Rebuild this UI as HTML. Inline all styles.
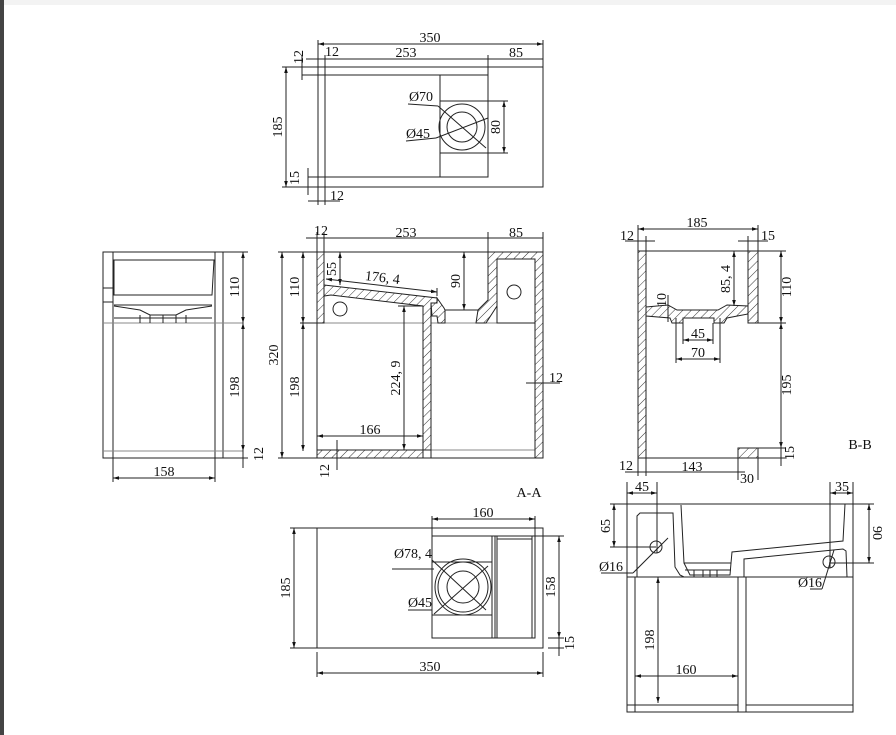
<!DOCTYPE html>
<html><head><meta charset="utf-8"><style>
html,body{margin:0;padding:0;background:#fff;}
svg{display:block;}
text{font-family:"Liberation Serif",serif;font-size:14px;fill:#111;}
</style></head><body>
<svg width="896" height="735" viewBox="0 0 896 735" xmlns="http://www.w3.org/2000/svg">
<defs>
<pattern id="h" patternUnits="userSpaceOnUse" width="6" height="6" patternTransform="rotate(45)">
<rect width="6" height="6" fill="#fff"/><line x1="0" y1="0" x2="0" y2="6" stroke="#333" stroke-width="1"/>
</pattern>
<marker id="a" viewBox="0 0 10 10" refX="10" refY="5" markerWidth="6" markerHeight="6" orient="auto-start-reverse"><path d="M0,2 L10,5 L0,8 z" fill="#111"/></marker>
</defs>
<rect x="0" y="0" width="896" height="735" fill="#fff"/>
<rect x="0" y="0" width="896" height="5" fill="#f3f3f3"/>
<rect x="0" y="0" width="4" height="735" fill="#444"/>

<g stroke="#222" stroke-width="1" fill="none">
<!-- TOP VIEW -->
<rect x="318" y="67" width="225" height="120"/>
<rect x="325" y="75" width="163" height="102"/>
<line x1="440" y1="75" x2="440" y2="177"/>
<rect x="440" y="101" width="48" height="52"/>
<circle cx="462" cy="127" r="23"/><circle cx="462" cy="127" r="15"/>
<line x1="438" y1="106" x2="486" y2="148"/><line x1="436" y1="138" x2="488" y2="118"/>
<line x1="318" y1="44" x2="543" y2="44" marker-start="url(#a)" marker-end="url(#a)"/>
<line x1="318" y1="40" x2="318" y2="67"/><line x1="543" y1="40" x2="543" y2="67"/>
<line x1="306" y1="59" x2="543" y2="59"/>
<line x1="325" y1="55" x2="325" y2="75"/><line x1="488" y1="55" x2="488" y2="75"/>
<line x1="282" y1="67" x2="318" y2="67"/><line x1="282" y1="187" x2="318" y2="187"/>
<line x1="286" y1="67" x2="286" y2="187" marker-start="url(#a)" marker-end="url(#a)"/>
<line x1="302" y1="55" x2="302" y2="80"/><line x1="302" y1="75" x2="325" y2="75"/>
<line x1="308" y1="168" x2="308" y2="195"/><line x1="308" y1="177" x2="325" y2="177"/>
<line x1="308" y1="201" x2="340" y2="201"/><line x1="318" y1="187" x2="318" y2="205"/><line x1="325" y1="177" x2="325" y2="205"/>
<line x1="488" y1="101" x2="508" y2="101"/><line x1="488" y1="153" x2="508" y2="153"/>
<line x1="504" y1="101" x2="504" y2="153" marker-start="url(#a)" marker-end="url(#a)"/>
<line x1="408" y1="104" x2="438" y2="106"/><line x1="406" y1="141" x2="436" y2="138"/>

<!-- LEFT SIDE VIEW -->
<rect x="103" y="252" width="120" height="206"/>
<line x1="113" y1="252" x2="113" y2="458"/><line x1="215" y1="252" x2="215" y2="458"/>
<line x1="103" y1="323" x2="243" y2="323" stroke="#888"/>
<line x1="103" y1="451" x2="243" y2="451" stroke="#888"/>
<path d="M114,260 L214,260 L212,295 L114,295 Z"/>
<line x1="114" y1="305" x2="212" y2="305"/>
<path d="M114,306 L140,310 L150,315 L176,315 L186,310 L212,306"/>
<line x1="114" y1="318" x2="212" y2="318"/>
<line x1="140" y1="315" x2="140" y2="323"/><line x1="150" y1="315" x2="150" y2="323"/><line x1="163" y1="315" x2="163" y2="323"/><line x1="176" y1="315" x2="176" y2="323"/><line x1="186" y1="315" x2="186" y2="323"/>
<line x1="103" y1="288" x2="113" y2="288"/><line x1="103" y1="302" x2="113" y2="302"/>
<line x1="223" y1="252" x2="248" y2="252"/><line x1="223" y1="458" x2="248" y2="458"/>
<line x1="243" y1="252" x2="243" y2="323" marker-start="url(#a)" marker-end="url(#a)"/>
<line x1="243" y1="323" x2="243" y2="451" marker-start="url(#a)" marker-end="url(#a)"/>
<line x1="243" y1="451" x2="243" y2="468"/>
<line x1="113" y1="458" x2="113" y2="482"/><line x1="215" y1="458" x2="215" y2="482"/>
<line x1="113" y1="478" x2="215" y2="478" marker-start="url(#a)" marker-end="url(#a)"/>

<!-- A-A SECTION -->
<rect x="317" y="252" width="226" height="206"/>
<line x1="317" y1="323" x2="543" y2="323" stroke="#888"/>
<line x1="317" y1="450" x2="543" y2="450" stroke="#888"/>
<rect x="317" y="252" width="7" height="71" fill="url(#h)"/>
<path d="M324,285 L437,298 L437,303 L431,303 L431,450 L423,450 L423,306 L331,295 L324,296 Z" fill="url(#h)"/>
<path d="M437,298 L444,308 L445,310 L445,323 L438,323 L437,316 L432,316 L431,303 L437,303 Z" fill="url(#h)"/>
<rect x="317" y="450" width="106" height="8" fill="url(#h)"/>
<line x1="431" y1="450" x2="431" y2="458"/>
<line x1="445" y1="310" x2="478" y2="310"/>
<path d="M478,310 L488,300 L488,252 L543,252 L543,458 L535,458 L535,259 L497,259 L497,306 L486,323 L476,323 L478,310 Z" fill="url(#h)"/>
<rect x="497" y="259" width="38" height="64" fill="#fff"/>
<circle cx="340" cy="309" r="7"/><circle cx="514" cy="292" r="7"/>
<line x1="306" y1="238" x2="543" y2="238"/>
<line x1="317" y1="232" x2="317" y2="252"/><line x1="324" y1="232" x2="324" y2="252"/><line x1="488" y1="232" x2="488" y2="252"/><line x1="543" y1="232" x2="543" y2="252"/>
<line x1="278" y1="252" x2="317" y2="252"/><line x1="278" y1="458" x2="317" y2="458"/>
<line x1="282" y1="252" x2="282" y2="458" marker-start="url(#a)" marker-end="url(#a)"/>
<line x1="300" y1="323" x2="317" y2="323"/>
<line x1="303" y1="252" x2="303" y2="323" marker-start="url(#a)" marker-end="url(#a)"/>
<line x1="303" y1="323" x2="303" y2="451" marker-start="url(#a)" marker-end="url(#a)"/>
<line x1="340" y1="252" x2="340" y2="285" marker-start="url(#a)" marker-end="url(#a)"/>
<line x1="326" y1="279" x2="437" y2="292" marker-start="url(#a)" marker-end="url(#a)"/>
<line x1="437" y1="288" x2="437" y2="296"/>
<line x1="464" y1="252" x2="464" y2="310" marker-start="url(#a)" marker-end="url(#a)"/>
<line x1="404" y1="306" x2="404" y2="450" marker-start="url(#a)" marker-end="url(#a)"/>
<line x1="398" y1="306" x2="423" y2="306"/>
<line x1="317" y1="436" x2="423" y2="436" marker-start="url(#a)" marker-end="url(#a)"/>
<line x1="526" y1="383" x2="560" y2="383"/>
<line x1="337" y1="440" x2="337" y2="470"/>

<!-- B-B SECTION -->
<rect x="638" y="251" width="8" height="207" fill="url(#h)"/>
<rect x="748" y="251" width="10" height="72" fill="url(#h)"/>
<rect x="738" y="448" width="20" height="10" fill="url(#h)"/>
<line x1="646" y1="458" x2="738" y2="458"/>
<line x1="646" y1="251" x2="748" y2="251"/>
<path d="M646,307 L668,305 L677,310 L718,310 L727,305 L748,306 L748,314 L727,318 L724,323 L714,323 L714,318 L683,318 L683,323 L672,323 L670,318 L646,316 Z" fill="url(#h)"/>
<line x1="683" y1="318" x2="714" y2="318"/>
<line x1="638" y1="229" x2="758" y2="229" marker-start="url(#a)" marker-end="url(#a)"/>
<line x1="638" y1="225" x2="638" y2="251"/><line x1="758" y1="225" x2="758" y2="251"/>
<line x1="625" y1="241" x2="655" y2="241"/><line x1="646" y1="236" x2="646" y2="251"/>
<line x1="738" y1="241" x2="768" y2="241"/><line x1="748" y1="236" x2="748" y2="251"/>
<line x1="734" y1="251" x2="734" y2="306" marker-start="url(#a)" marker-end="url(#a)"/>
<line x1="758" y1="251" x2="786" y2="251"/><line x1="758" y1="323" x2="786" y2="323"/>
<line x1="758" y1="448" x2="786" y2="448"/><line x1="758" y1="458" x2="786" y2="458"/>
<line x1="781" y1="251" x2="781" y2="323" marker-start="url(#a)" marker-end="url(#a)"/>
<line x1="781" y1="323" x2="781" y2="448" marker-start="url(#a)" marker-end="url(#a)"/>
<line x1="781" y1="440" x2="781" y2="466"/>
<line x1="668" y1="295" x2="668" y2="322"/>
<line x1="676" y1="318" x2="676" y2="363"/><line x1="683" y1="323" x2="683" y2="344"/><line x1="713" y1="323" x2="713" y2="344"/><line x1="720" y1="318" x2="720" y2="363"/>
<line x1="683" y1="340" x2="713" y2="340" marker-start="url(#a)" marker-end="url(#a)"/>
<line x1="676" y1="359" x2="720" y2="359" marker-start="url(#a)" marker-end="url(#a)"/>
<line x1="625" y1="472" x2="745" y2="472"/>
<line x1="638" y1="458" x2="638" y2="476"/><line x1="646" y1="458" x2="646" y2="476"/><line x1="738" y1="458" x2="738" y2="480"/><line x1="758" y1="458" x2="758" y2="480"/>

<!-- BOTTOM VIEW -->
<rect x="317" y="528" width="226" height="120"/>
<rect x="432" y="536" width="103" height="102"/>
<line x1="492" y1="536" x2="492" y2="638"/><line x1="495" y1="536" x2="495" y2="638"/><line x1="497" y1="536" x2="497" y2="638"/>
<line x1="532" y1="536" x2="532" y2="638"/><line x1="497" y1="539" x2="532" y2="539"/>
<line x1="432" y1="562" x2="492" y2="562"/><line x1="432" y1="615" x2="492" y2="615"/>
<circle cx="463" cy="587" r="28"/><circle cx="463" cy="587" r="25"/><circle cx="463" cy="587" r="16"/>
<line x1="432" y1="560" x2="486" y2="610"/><line x1="434" y1="614" x2="488" y2="566"/>
<line x1="432" y1="516" x2="432" y2="536"/><line x1="535" y1="516" x2="535" y2="536"/>
<line x1="432" y1="519" x2="535" y2="519" marker-start="url(#a)" marker-end="url(#a)"/>
<line x1="290" y1="528" x2="317" y2="528"/><line x1="290" y1="648" x2="317" y2="648"/>
<line x1="294" y1="528" x2="294" y2="648" marker-start="url(#a)" marker-end="url(#a)"/>
<line x1="317" y1="652" x2="317" y2="677"/><line x1="543" y1="652" x2="543" y2="677"/>
<line x1="317" y1="673" x2="543" y2="673" marker-start="url(#a)" marker-end="url(#a)"/>
<line x1="535" y1="536" x2="564" y2="536"/><line x1="548" y1="638" x2="564" y2="638"/><line x1="548" y1="648" x2="564" y2="648"/>
<line x1="559" y1="536" x2="559" y2="638" marker-start="url(#a)" marker-end="url(#a)"/>
<line x1="559" y1="638" x2="559" y2="656"/>
<line x1="392" y1="569" x2="434" y2="569"/><line x1="408" y1="610" x2="432" y2="610"/>

<!-- RIGHT FRONT VIEW -->
<rect x="627" y="504" width="226" height="208"/>
<line x1="627" y1="577" x2="853" y2="577"/>
<line x1="635" y1="577" x2="635" y2="712"/><line x1="738" y1="577" x2="738" y2="712"/>
<line x1="746" y1="577" x2="746" y2="712"/><line x1="627" y1="705" x2="738" y2="705"/><line x1="746" y1="705" x2="853" y2="705"/>
<path d="M637,577 L637,516 L640,513 L673,513 L675,567 L680,575 L684,577"/>
<path d="M681,505 L684,563 L731,563 L732,552 L843,541 L845,504"/>
<path d="M684,563 L690,575 L730,575 L731,563"/>
<path d="M744,577 L744,559 L843,549 L846,551 L847,577"/>
<line x1="685" y1="570" x2="731" y2="570"/>
<line x1="694" y1="570" x2="694" y2="577"/><line x1="703" y1="570" x2="703" y2="577"/><line x1="710" y1="570" x2="710" y2="577"/><line x1="717" y1="570" x2="717" y2="577"/>
<circle cx="656" cy="547" r="6"/><circle cx="829" cy="562" r="6"/>
<line x1="627" y1="482" x2="627" y2="504"/><line x1="657" y1="482" x2="657" y2="553"/>
<line x1="627" y1="493" x2="657" y2="493" marker-start="url(#a)" marker-end="url(#a)"/>
<line x1="830" y1="482" x2="830" y2="568"/><line x1="853" y1="482" x2="853" y2="504"/>
<line x1="830" y1="493" x2="853" y2="493" marker-start="url(#a)" marker-end="url(#a)"/>
<line x1="610" y1="504" x2="627" y2="504"/><line x1="610" y1="547" x2="656" y2="547"/>
<line x1="614" y1="504" x2="614" y2="547" marker-start="url(#a)" marker-end="url(#a)"/>
<line x1="853" y1="504" x2="874" y2="504"/><line x1="829" y1="563" x2="874" y2="563"/>
<line x1="869" y1="504" x2="869" y2="563" marker-start="url(#a)" marker-end="url(#a)"/>
<line x1="601" y1="573" x2="633" y2="573"/><line x1="633" y1="573" x2="668" y2="538"/>
<line x1="810" y1="589" x2="822" y2="589"/><line x1="822" y1="589" x2="834" y2="550"/>
<line x1="658" y1="577" x2="658" y2="703" marker-start="url(#a)" marker-end="url(#a)"/>
<line x1="635" y1="676" x2="738" y2="676" marker-start="url(#a)" marker-end="url(#a)"/>
</g>

<g>
<text x="430" y="42" text-anchor="middle">350</text>
<text x="332" y="56" text-anchor="middle">12</text>
<text x="406" y="57" text-anchor="middle">253</text>
<text x="516" y="57" text-anchor="middle">85</text>
<text x="298" y="62" transform="rotate(-90 298 57)" text-anchor="middle">12</text>
<text x="286" y="127" transform="rotate(-90 286 127)" text-anchor="middle" dy="-4">185</text>
<text x="303" y="178" transform="rotate(-90 303 178)" text-anchor="middle" dy="-4">15</text>
<text x="337" y="200" text-anchor="middle">12</text>
<text x="504" y="127" transform="rotate(-90 504 127)" text-anchor="middle" dy="-4">80</text>
<text x="421" y="101" text-anchor="middle">Ø70</text>
<text x="418" y="138" text-anchor="middle">Ø45</text>

<text x="243" y="287" transform="rotate(-90 243 287)" text-anchor="middle" dy="-4">110</text>
<text x="243" y="387" transform="rotate(-90 243 387)" text-anchor="middle" dy="-4">198</text>
<text x="259" y="454" transform="rotate(-90 259 454)" text-anchor="middle" dy="4">12</text>
<text x="164" y="476" text-anchor="middle">158</text>

<text x="321" y="235" text-anchor="middle">12</text>
<text x="406" y="237" text-anchor="middle">253</text>
<text x="516" y="237" text-anchor="middle">85</text>
<text x="282" y="355" transform="rotate(-90 282 355)" text-anchor="middle" dy="-4">320</text>
<text x="303" y="287" transform="rotate(-90 303 287)" text-anchor="middle" dy="-4">110</text>
<text x="303" y="387" transform="rotate(-90 303 387)" text-anchor="middle" dy="-4">198</text>
<text x="340" y="269" transform="rotate(-90 340 269)" text-anchor="middle" dy="-4">55</text>
<text x="382" y="282" text-anchor="middle" transform="rotate(6.5 382 282)">176, 4</text>
<text x="464" y="281" transform="rotate(-90 464 281)" text-anchor="middle" dy="-4">90</text>
<text x="404" y="378" transform="rotate(-90 404 378)" text-anchor="middle" dy="-4">224, 9</text>
<text x="370" y="434" text-anchor="middle">166</text>
<text x="556" y="382" text-anchor="middle">12</text>
<text x="333" y="471" transform="rotate(-90 333 471)" text-anchor="middle" dy="-4">12</text>
<text x="529" y="497" text-anchor="middle">A-A</text>

<text x="697" y="227" text-anchor="middle">185</text>
<text x="627" y="240" text-anchor="middle">12</text>
<text x="768" y="240" text-anchor="middle">15</text>
<text x="734" y="279" transform="rotate(-90 734 279)" text-anchor="middle" dy="-4">85, 4</text>
<text x="781" y="287" transform="rotate(-90 781 287)" text-anchor="middle" dy="10">110</text>
<text x="781" y="385" transform="rotate(-90 781 385)" text-anchor="middle" dy="10">195</text>
<text x="790" y="453" transform="rotate(-90 790 453)" text-anchor="middle" dy="4">15</text>
<text x="662" y="300" transform="rotate(-90 662 300)" text-anchor="middle" dy="4">10</text>
<text x="698" y="338" text-anchor="middle">45</text>
<text x="698" y="357" text-anchor="middle">70</text>
<text x="626" y="470" text-anchor="middle">12</text>
<text x="692" y="471" text-anchor="middle">143</text>
<text x="747" y="483" text-anchor="middle">30</text>
<text x="860" y="449" text-anchor="middle">B-B</text>

<text x="483" y="517" text-anchor="middle">160</text>
<text x="294" y="588" transform="rotate(-90 294 588)" text-anchor="middle" dy="-4">185</text>
<text x="430" y="671" text-anchor="middle">350</text>
<text x="559" y="587" transform="rotate(-90 559 587)" text-anchor="middle" dy="-4">158</text>
<text x="570" y="643" transform="rotate(-90 570 643)" text-anchor="middle" dy="4">15</text>
<text x="413" y="558" text-anchor="middle">Ø78, 4</text>
<text x="420" y="607" text-anchor="middle">Ø45</text>

<text x="642" y="491" text-anchor="middle">45</text>
<text x="842" y="491" text-anchor="middle">35</text>
<text x="614" y="526" transform="rotate(-90 614 526)" text-anchor="middle" dy="-4">65</text>
<text x="869" y="533" transform="rotate(90 869 533)" text-anchor="middle" dy="-4">90</text>
<text x="611" y="571" text-anchor="middle">Ø16</text>
<text x="810" y="587" text-anchor="middle">Ø16</text>
<text x="658" y="640" transform="rotate(-90 658 640)" text-anchor="middle" dy="-4">198</text>
<text x="686" y="674" text-anchor="middle">160</text>
</g>
</svg>
</body></html>
